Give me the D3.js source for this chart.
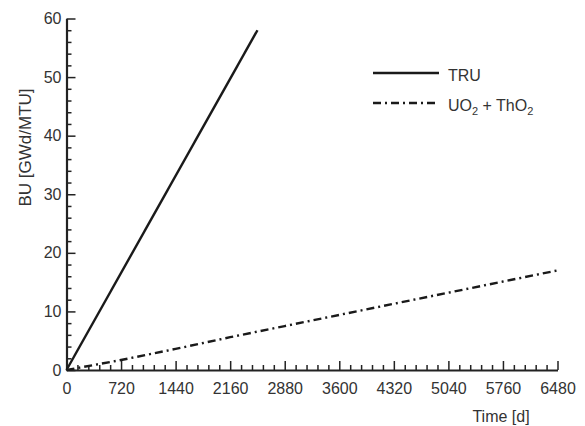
<!DOCTYPE html>
<html><head><meta charset="utf-8">
<script src="https://cdn.jsdelivr.net/npm/d3@7"></script>
<style>
body{margin:0;background:#fff;}
svg{display:block;}
text{font-family:"Liberation Sans",Arial,Helvetica,sans-serif;fill:#333;}
</style></head><body>
<svg id="chart" width="585" height="426"></svg>
<script>
const xTicks = [0,720,1440,2160,2880,3600,4320,5040,5760,6480];
const yTicks = [0,10,20,30,40,50,60];
const truTime = [0, 2520];
const truBU = [0, 58];
const uoTime = [0, 720, 1440, 2160, 2880, 3600, 4320, 5040, 5760, 6480];
const uoBU = [0, 1.7, 3.6, 5.6, 7.5, 9.4, 11.3, 13.2, 15.1, 17];
const seriesNames = ["TRU", "UO2 + ThO2"];

const svg = d3.select("#chart");
const x = d3.scaleLinear().domain([0,6480]).range([66.5,557.5]);
const y = d3.scaleLinear().domain([0,60]).range([370,18.5]);

// minor ticks
const xMinor = d3.range(0,6481,144).filter(v=>v%720!==0);
const yMinor = d3.range(0,61,2).filter(v=>v%10!==0);

const gx = svg.append("g").attr("transform","translate(0,370)");
gx.call(d3.axisBottom(x).tickValues(xMinor).tickSize(-5).tickFormat("").tickSizeOuter(0));
gx.selectAll(".domain").remove();
const gx2 = svg.append("g").attr("transform","translate(0,370)");
gx2.call(d3.axisBottom(x).tickValues(xTicks).tickSize(-9).tickPadding(13).tickSizeOuter(0).tickFormat(d3.format("d")));

const gy = svg.append("g").attr("transform","translate(66.5,0)");
gy.call(d3.axisLeft(y).tickValues(yMinor).tickSize(-5).tickFormat("").tickSizeOuter(0));
gy.selectAll(".domain").remove();
const gy2 = svg.append("g").attr("transform","translate(66.5,0)");
gy2.call(d3.axisLeft(y).tickValues(yTicks).tickSize(-9).tickPadding(5).tickSizeOuter(0));

svg.selectAll(".tick line").attr("stroke","#222").attr("stroke-width",1.5);
svg.selectAll(".domain").attr("stroke","#222").attr("stroke-width",2.2);
svg.selectAll(".tick text").style("font-size","16px").attr("fill","#333");
gx2.selectAll(".tick text").attr("dy","0.71em");

// lines
const line = d3.line().x(d=>x(d[0])).y(d=>y(d[1]));
svg.append("path").datum(truTime.map((t,i)=>[t,truBU[i]]))
  .attr("d",line).attr("fill","none").attr("stroke","#1a1a1a").attr("stroke-width",2.4);
svg.append("path").datum(uoTime.map((t,i)=>[t,uoBU[i]]))
  .attr("d",line).attr("fill","none").attr("stroke","#1a1a1a").attr("stroke-width",2.4)
  .attr("stroke-dasharray","8,4,2,4");

// axis titles
svg.append("text").attr("x",501).attr("y",422).attr("text-anchor","middle")
  .style("font-size","16px").text("Time [d]");
svg.append("text").attr("transform","translate(30.5,147.5) rotate(-90)")
  .attr("text-anchor","middle").style("font-size","17px").text("BU [GWd/MTU]");

// legend
const lg = svg.append("g");
lg.append("line").attr("x1",373).attr("x2",439).attr("y1",73).attr("y2",73)
  .attr("stroke","#1a1a1a").attr("stroke-width",2.4);
lg.append("text").attr("x",448).attr("y",80.5).style("font-size","16px").text(seriesNames[0]);
lg.append("line").attr("x1",373).attr("x2",439).attr("y1",103).attr("y2",103)
  .attr("stroke","#1a1a1a").attr("stroke-width",2.4).attr("stroke-dasharray","8,4,2,4");
const t2 = lg.append("text").attr("x",448).attr("y",110.5).style("font-size","16px");
t2.append("tspan").text("UO");
t2.append("tspan").attr("dy",4).style("font-size","11px").text("2");
t2.append("tspan").attr("dy",-4).text(" + ThO");
t2.append("tspan").attr("dy",4).style("font-size","11px").text("2");
</script>
</body></html>
